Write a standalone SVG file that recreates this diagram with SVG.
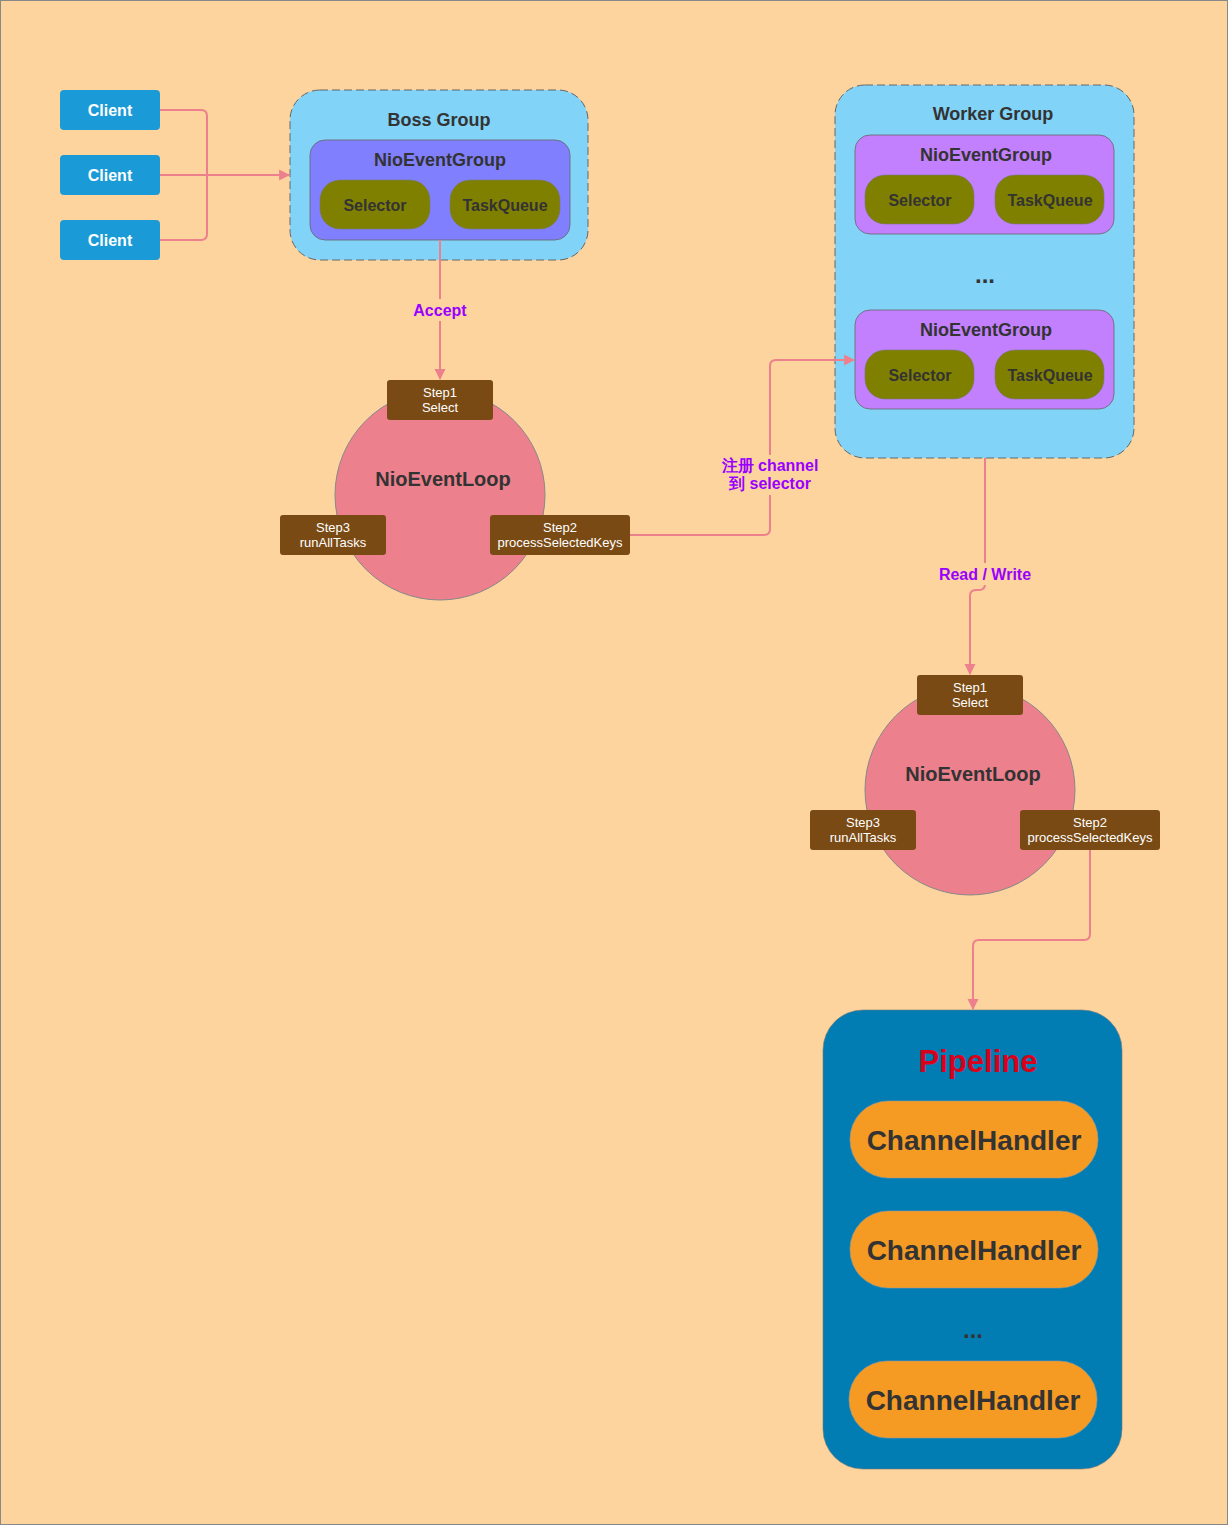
<svg xmlns="http://www.w3.org/2000/svg" width="1228" height="1525" viewBox="0 0 1228 1525">
<defs>
<style>
text{font-family:"Liberation Sans",Arial,sans-serif;font-weight:bold;text-anchor:middle;dominant-baseline:central}
.client rect{fill:#1A9AD6}
.client text{fill:#fff;font-size:16px}
.group{fill:#81D3F8;stroke:#666;stroke-dasharray:8 4;stroke-width:1}
.gtitle{fill:#333;font-size:18px}
.dots{fill:#333;font-size:24px}
.inner{stroke:#666;stroke-width:0.8}
.sel{fill:#808000;stroke:#777;stroke-width:0.6}
.seltext{fill:#333;font-size:16px}
.loop{fill:#EC808D;stroke:#888;stroke-width:1}
.looptext{fill:#333;font-size:20px}
.step rect{fill:#7A4A14}
.step text{fill:#fff;font-size:13px;font-weight:normal}
.conn{fill:none;stroke:#EC808D;stroke-width:2}
.lbl{fill:#9900FF;font-size:16px}
.handler{fill:#F59A23;stroke:#999;stroke-width:0.6}
.htext{fill:#333;font-size:28px}
</style>
<marker id="arr" viewBox="0 0 10 10" refX="9" refY="5" markerWidth="5.5" markerHeight="6" orient="auto-start-reverse">
<path d="M0,0 L10,5 L0,10 z" fill="#EC808D"/>
</marker>
</defs>
<rect x="0.5" y="0.5" width="1227" height="1524" fill="#FDD49E" stroke="#888"/>

<g id="client1" class="client"><rect x="60" y="90" width="100" height="40" rx="4"/><text x="110" y="110">Client</text></g>
<g id="client2" class="client"><rect x="60" y="155" width="100" height="40" rx="4"/><text x="110" y="175">Client</text></g>
<g id="client3" class="client"><rect x="60" y="220" width="100" height="40" rx="4"/><text x="110" y="240">Client</text></g>

<g id="bossGroup">
<rect class="group" x="290" y="90" width="298" height="170" rx="30"/>
<text class="gtitle" x="439" y="120">Boss Group</text>
<rect class="inner" x="310" y="140" width="260" height="100" rx="15" fill="#8080FF"/>
<text class="gtitle" x="440" y="160">NioEventGroup</text>
<rect class="sel" x="320" y="180" width="110" height="49" rx="20"/>
<text class="seltext" x="375" y="205">Selector</text>
<rect class="sel" x="450" y="180" width="110" height="49" rx="20"/>
<text class="seltext" x="505" y="205">TaskQueue</text>
</g>

<g id="bossLoop">
<circle class="loop" cx="440" cy="495" r="105"/>
<text class="looptext" x="443" y="479">NioEventLoop</text>
<g class="step"><rect x="387" y="380" width="106" height="40" rx="3"/><text x="440" y="392">Step1</text><text x="440" y="407">Select</text></g>
<g class="step"><rect x="280" y="515" width="106" height="40" rx="3"/><text x="333" y="527">Step3</text><text x="333" y="542">runAllTasks</text></g>
<g class="step"><rect x="490" y="515" width="140" height="40" rx="3"/><text x="560" y="527">Step2</text><text x="560" y="542">processSelectedKeys</text></g>
</g>

<g id="workerGroup">
<rect class="group" x="835" y="85" width="299" height="373" rx="30"/>
<text class="gtitle" x="993" y="114">Worker Group</text>
<rect class="inner" x="855" y="135" width="259" height="99" rx="15" fill="#C280FF"/>
<text class="gtitle" x="986" y="155">NioEventGroup</text>
<rect class="sel" x="865" y="175" width="109" height="49" rx="20"/>
<text class="seltext" x="920" y="200">Selector</text>
<rect class="sel" x="995" y="175" width="109" height="49" rx="20"/>
<text class="seltext" x="1050" y="200">TaskQueue</text>
<text class="dots" x="985" y="274">...</text>
<rect class="inner" x="855" y="310" width="259" height="99" rx="15" fill="#C280FF"/>
<text class="gtitle" x="986" y="330">NioEventGroup</text>
<rect class="sel" x="865" y="350" width="109" height="49" rx="20"/>
<text class="seltext" x="920" y="375">Selector</text>
<rect class="sel" x="995" y="350" width="109" height="49" rx="20"/>
<text class="seltext" x="1050" y="375">TaskQueue</text>
</g>

<g id="workerLoop">
<circle class="loop" cx="970" cy="790" r="105"/>
<text class="looptext" x="973" y="774">NioEventLoop</text>
<g class="step"><rect x="917" y="675" width="106" height="40" rx="3"/><text x="970" y="687">Step1</text><text x="970" y="702">Select</text></g>
<g class="step"><rect x="810" y="810" width="106" height="40" rx="3"/><text x="863" y="822">Step3</text><text x="863" y="837">runAllTasks</text></g>
<g class="step"><rect x="1020" y="810" width="140" height="40" rx="3"/><text x="1090" y="822">Step2</text><text x="1090" y="837">processSelectedKeys</text></g>
</g>

<g id="pipeline">
<rect x="823" y="1010" width="299" height="459" rx="40" fill="#027DB4" stroke="#777" stroke-width="0.6"/>
<text x="978" y="1061" fill="#D9001B" font-size="31">Pipeline</text>
<rect class="handler" x="850" y="1101" width="248" height="77" rx="38"/>
<text class="htext" x="974" y="1140">ChannelHandler</text>
<rect class="handler" x="850" y="1211" width="248" height="77" rx="38"/>
<text class="htext" x="974" y="1250">ChannelHandler</text>
<text class="dots" x="973" y="1329">...</text>
<rect class="handler" x="849" y="1361" width="248" height="77" rx="38"/>
<text class="htext" x="973" y="1400">ChannelHandler</text>
</g>

<g id="connectors">
<path class="conn" d="M160,110 H201 Q207,110 207,116 V234 Q207,240 201,240 H160"/>
<path class="conn" d="M160,175 H289" marker-end="url(#arr)"/>
<path class="conn" d="M440,240 V379" marker-end="url(#arr)"/>
<path class="conn" d="M630,535 H764 Q770,535 770,529 V366 Q770,360 776,360 H854" marker-end="url(#arr)"/>
<path class="conn" d="M985,458 V584 Q985,590 979,590 H976 Q970,590 970,596 V674" marker-end="url(#arr)"/>
<path class="conn" d="M1090,850 V934 Q1090,940 1084,940 H979 Q973,940 973,946 V1009" marker-end="url(#arr)"/>
<rect x="408" y="299" width="64" height="22" fill="#FDD49E"/>
<text class="lbl" x="440" y="310">Accept</text>
<rect x="718" y="455" width="104" height="40" fill="#FDD49E"/>
<text class="lbl" x="770" y="465">注册 channel</text>
<text class="lbl" x="770" y="483">到 selector</text>
<rect x="934" y="563" width="102" height="22" fill="#FDD49E"/>
<text class="lbl" x="985" y="574">Read / Write</text>
</g>
</svg>
